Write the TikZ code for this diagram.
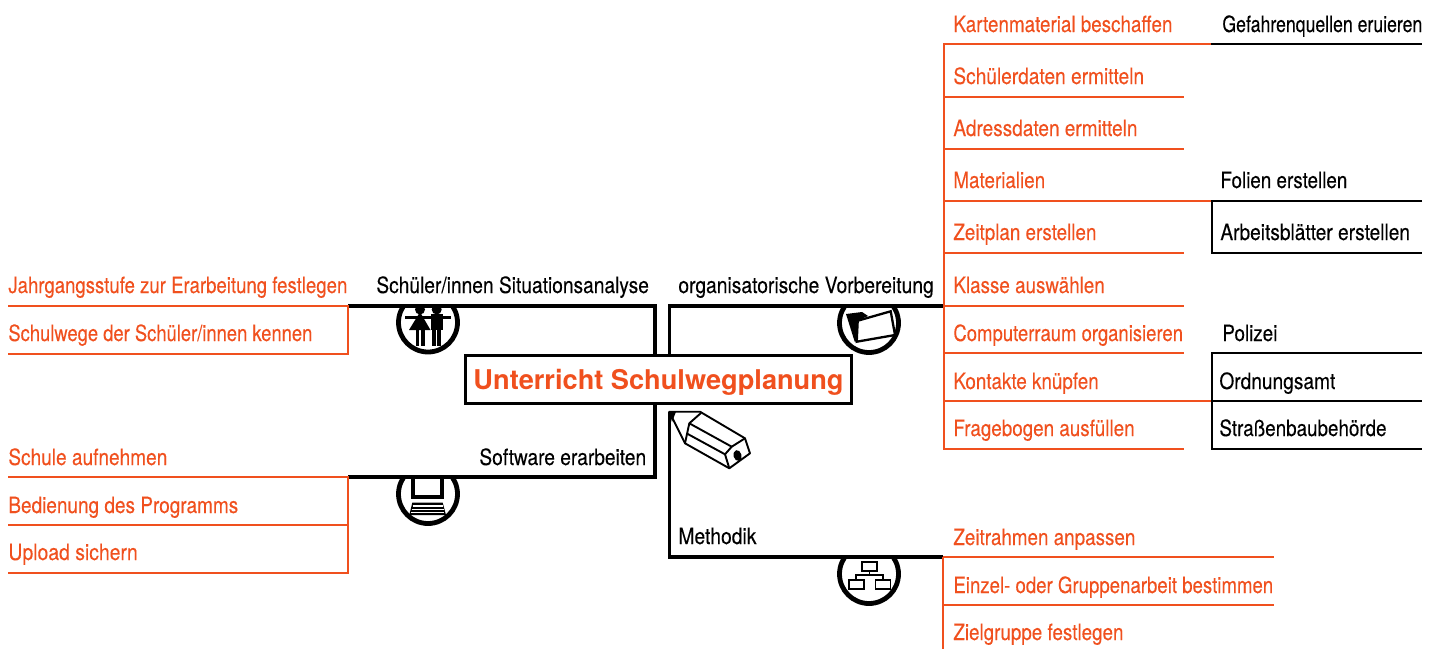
\documentclass[tikz,border=0pt]{standalone}
\usepackage{graphicx}
\usepackage{fontspec}
\setmainfont[FakeStretch=0.84,FakeBold=0.12]{TeX Gyre Heros}
\newfontfamily\titlefont{TeX Gyre Heros}
\newcommand{\sqz}[2]{\scalebox{#1}[1]{#2}}
\definecolor{mmorange}{RGB}{240,80,30}
\tikzset{
  x=0.5pt,y=-0.5pt,
  olabel/.style={anchor=base west,inner sep=0pt,text=mmorange,font=\fontsize{11.2pt}{13pt}\selectfont},
  klabel/.style={anchor=base west,inner sep=0pt,text=black,font=\fontsize{11.2pt}{13pt}\selectfont},
  oline/.style={draw=mmorange,line width=1.15pt,line join=miter},
  kline/.style={draw=black,line width=1.05pt,line join=miter},
  mainline/.style={draw=black,line width=1.6pt,line join=miter},
  centerbox/.style={draw=black,line width=1.5pt,fill=white,minimum width=193pt,minimum height=24pt,inner sep=0pt,text depth=0pt,text=mmorange,font=\fontsize{13.6pt}{16pt}\titlefont\bfseries},
  iconink/.style={draw=black,line width=0.9pt,line join=miter},
}
\begin{document}
\begin{tikzpicture}
\useasboundingbox (0,0) rectangle (1439,649);
% anchors of the icon rings
\coordinate (ringS) at (428,322.5);
\coordinate (ringO) at (869,323);
\coordinate (ringW) at (428,494);
\coordinate (ringM) at (869,574);
% rings: each shows only below its branch line
\begin{scope}
  \clip (390,306) rectangle (466,360);
  \draw[black,line width=2.4pt] (ringS) circle (29.5);
\end{scope}
\begin{scope}
  \clip (830,306) rectangle (908,360);
  \draw[black,line width=2.4pt] (ringO) circle (29.5);
\end{scope}
\begin{scope}
  \clip (390,477) rectangle (466,530);
  \draw[black,line width=2.4pt] (ringW) circle (29.5);
\end{scope}
\begin{scope}
  \clip (830,557) rectangle (908,610);
  \draw[black,line width=2.4pt] (ringM) circle (29.5);
\end{scope}
% centre
\node[centerbox] (center) at (658.5,379) {Unterricht Schulwegplanung};
% junction coordinates
\coordinate (oT) at (669.5,355);
\coordinate (oC) at (669.5,306);
\coordinate (oE) at (944,306);
\coordinate (sT) at (655,355);
\coordinate (sC) at (655,306);
\coordinate (sE) at (348,306);
\coordinate (wT) at (655,403);
\coordinate (wC) at (655,477);
\coordinate (wE) at (348,477);
\coordinate (mT) at (669.5,412);
\coordinate (mC) at (669.5,557);
\coordinate (mE) at (943,557);
\draw[mainline] (oT) -- (oC) -- (oE);
\draw[mainline] (sT) -- (sC) -- (sE);
\draw[mainline] (wT) -- (wC) -- (wE);
\draw[mainline] (mT) -- (mC) -- (mE);
% branch labels
\node[klabel] (bS) at (376,293) {\sqz{1.019}{Schüler/innen Situationsanalyse}};
\node[klabel] (bO) at (678,293) {\sqz{1.024}{organisatorische Vorbereitung}};
\node[klabel] (bW) at (479,465) {\sqz{1.018}{Software erarbeiten}};
\node[klabel] (bM) at (678,544) {\sqz{1.026}{Methodik}};
% left top
\node[olabel] (s1) at (8,293) {\sqz{0.988}{Jahrgangsstufe zur Erarbeitung festlegen}};
\node[olabel] (s2) at (8,341) {\sqz{0.977}{Schulwege der Schüler/innen kennen}};
\coordinate (s1a) at (8,306); \coordinate (s2a) at (8,354); \coordinate (s2b) at (348,354);
\draw[oline] (s1a) -- (sE) -- (s2b) -- (s2a);
% left bottom
\node[olabel] (w1) at (8,465) {\sqz{1.013}{Schule aufnehmen}};
\node[olabel] (w2) at (8,513) {\sqz{1.009}{Bedienung des Programms}};
\node[olabel] (w3) at (8,560) {\sqz{1.03}{Upload sichern}};
\coordinate (w1a) at (8,477); \coordinate (w2a) at (8,525); \coordinate (w2b) at (348,525);
\coordinate (w3a) at (8,573); \coordinate (w3b) at (348,573);
\draw[oline] (w1a) -- (wE) -- (w3b) -- (w3a);
\draw[oline] (w2a) -- (w2b);
% right top
\node[olabel] (o1) at (953,32) {Kartenmaterial beschaffen};
\node[olabel] (o2) at (953,84) {\sqz{1.016}{Schülerdaten ermitteln}};
\node[olabel] (o3) at (953,136) {\sqz{1.011}{Adressdaten ermitteln}};
\node[olabel] (o4) at (953,188) {Materialien};
\node[olabel] (o5) at (953,240) {Zeitplan erstellen};
\node[olabel] (o6) at (953,293) {Klasse auswählen};
\node[olabel] (o7) at (953,341) {\sqz{0.983}{Computerraum organisieren}};
\node[olabel] (o8) at (953,389) {Kontakte knüpfen};
\node[olabel] (o9) at (953,436) {Fragebogen ausfüllen};
\coordinate (oV1) at (944,44); \coordinate (oV9) at (944,449);
\coordinate (h1) at (1211,44);
\coordinate (v2) at (944,97);  \coordinate (h2) at (1184,97);
\coordinate (v3) at (944,149); \coordinate (h3) at (1184,149);
\coordinate (v4) at (944,201); \coordinate (h4) at (1211,201);
\coordinate (v5) at (944,253); \coordinate (h5) at (1184,253);
\coordinate (h6) at (1184,306);
\coordinate (v7) at (944,353); \coordinate (h7) at (1184,353);
\coordinate (v8) at (944,401); \coordinate (h8) at (1211,401);
\coordinate (h9) at (1184,449);
\draw[oline] (h1) -- (oV1) -- (oV9) -- (h9);
\draw[oline] (v2) -- (h2);
\draw[oline] (v3) -- (h3);
\draw[oline] (v4) -- (h4);
\draw[oline] (v5) -- (h5);
\draw[oline] (oE) -- (h6);
\draw[oline] (v7) -- (h7);
\draw[oline] (v8) -- (h8);
% sub-branches
\node[klabel] (k1) at (1222,32) {\sqz{0.939}{Gefahrenquellen eruieren}};
\node[klabel] (k2) at (1220,188) {Folien erstellen};
\node[klabel] (k3) at (1220,240) {\sqz{1.016}{Arbeitsblätter erstellen}};
\node[klabel] (k4) at (1222,341) {Polizei};
\node[klabel] (k5) at (1219,389) {\sqz{1.017}{Ordnungsamt}};
\node[klabel] (k6) at (1219,436) {Straßenbaubehörde};
\coordinate (k1e) at (1422,44);
\coordinate (k2e) at (1422,201); \coordinate (k3a) at (1212,253); \coordinate (k3e) at (1422,253);
\coordinate (k2a) at (1212,201);
\coordinate (k4a) at (1212,353); \coordinate (k4e) at (1422,353);
\coordinate (k5a) at (1212,401); \coordinate (k5e) at (1422,401);
\coordinate (k6a) at (1212,449); \coordinate (k6e) at (1422,449);
\draw[kline] (h1) -- (k1e);
\draw[kline] (k2e) -- (k2a) -- (k3a) -- (k3e);
\draw[kline] (k4e) -- (k4a) -- (k6a) -- (k6e);
\draw[kline] (k5a) -- (k5e);
% Methodik
\node[olabel] (m1) at (953,545) {Zeitrahmen anpassen};
\node[olabel] (m2) at (953,593) {\sqz{0.99}{Einzel- oder Gruppenarbeit bestimmen}};
\node[olabel] (m3) at (953,640) {Zielgruppe festlegen};
\coordinate (m1e) at (1274,557);
\coordinate (m2a) at (943,605); \coordinate (m2e) at (1274,605);
\coordinate (m3a) at (943,649);
\draw[oline] (mE) -- (m1e);
\draw[oline] (m2a) -- (m2e);
\draw[oline] (mE) -- (m3a);
% --- icon: two figures
\fill (420,309.5) circle (5);
\fill (436.7,309.5) circle (5);
\fill (405,315.5) rectangle (451,318.5);
\fill (420,312) -- (430.5,330) -- (409,330) -- cycle;
\fill (431,314) rectangle (442.5,330);
\fill (415.5,329) rectangle (419.3,346);
\fill (420.7,329) rectangle (424.5,346);
\fill (432.3,329) rectangle (436,346);
\fill (437.3,329) rectangle (441,346);
% --- icon: folder
\fill (846,314) -- (862,312) -- (868,316) -- (857.7,320.7) -- (856.7,341.7) -- (854.7,341.7) -- cycle;
\draw[iconink,line width=1.15pt] (857.7,320.7) -- (890.7,311.3) -- (895,335) -- (856.7,341.7) -- cycle;
% --- icon: laptop
\draw[black,line width=2pt,line join=miter] (412.7,478) -- (412.7,497.3) -- (442,497.3) -- (442,478);
\fill (412.3,502.7) -- (442.7,502.7) -- (446,515) -- (409.3,515) -- cycle;
\draw[white,line width=0.55pt] (412.5,506) -- (442.5,506) (411.5,509.3) -- (443.5,509.3) (411,512.3) -- (444,512.3);
% --- icon: network
\draw[iconink] (869.5,571) -- (869.5,575) (856,580) -- (856,575) -- (883,575) -- (883,580);
\draw[iconink] (862,562) rectangle (877,571);
\draw[iconink] (849,580) rectangle (864,589);
\draw[iconink] (875.5,580) rectangle (890.5,589);
% --- pencil
\coordinate (penTip) at (669.3,411.7);
\draw[iconink,line width=0.95pt,line join=round] (penTip) -- (700,411.7) -- (745,438.3) -- (750,453.3) -- (729.3,468.3) -- (685,443.3) -- cycle;
\fill (penTip) -- (676,411.7) -- (672,422) -- cycle;
\draw[iconink,line width=0.95pt,line join=round] (701,413) -- (689.3,423.3) -- (685,443.3);
\draw[iconink,line width=0.95pt] (689.3,423.3) -- (731.7,446.7) (686.5,433.3) -- (725,454.3);
\draw[iconink,line width=0.95pt,line join=round] (745,438.3) -- (731.7,446.7) -- (725,454.3) -- (729.3,468.3);
\fill[rotate around={15:(737.5,455.5)}] (737.5,455.5) ellipse (4 and 5.5);
\end{tikzpicture}
\end{document}
